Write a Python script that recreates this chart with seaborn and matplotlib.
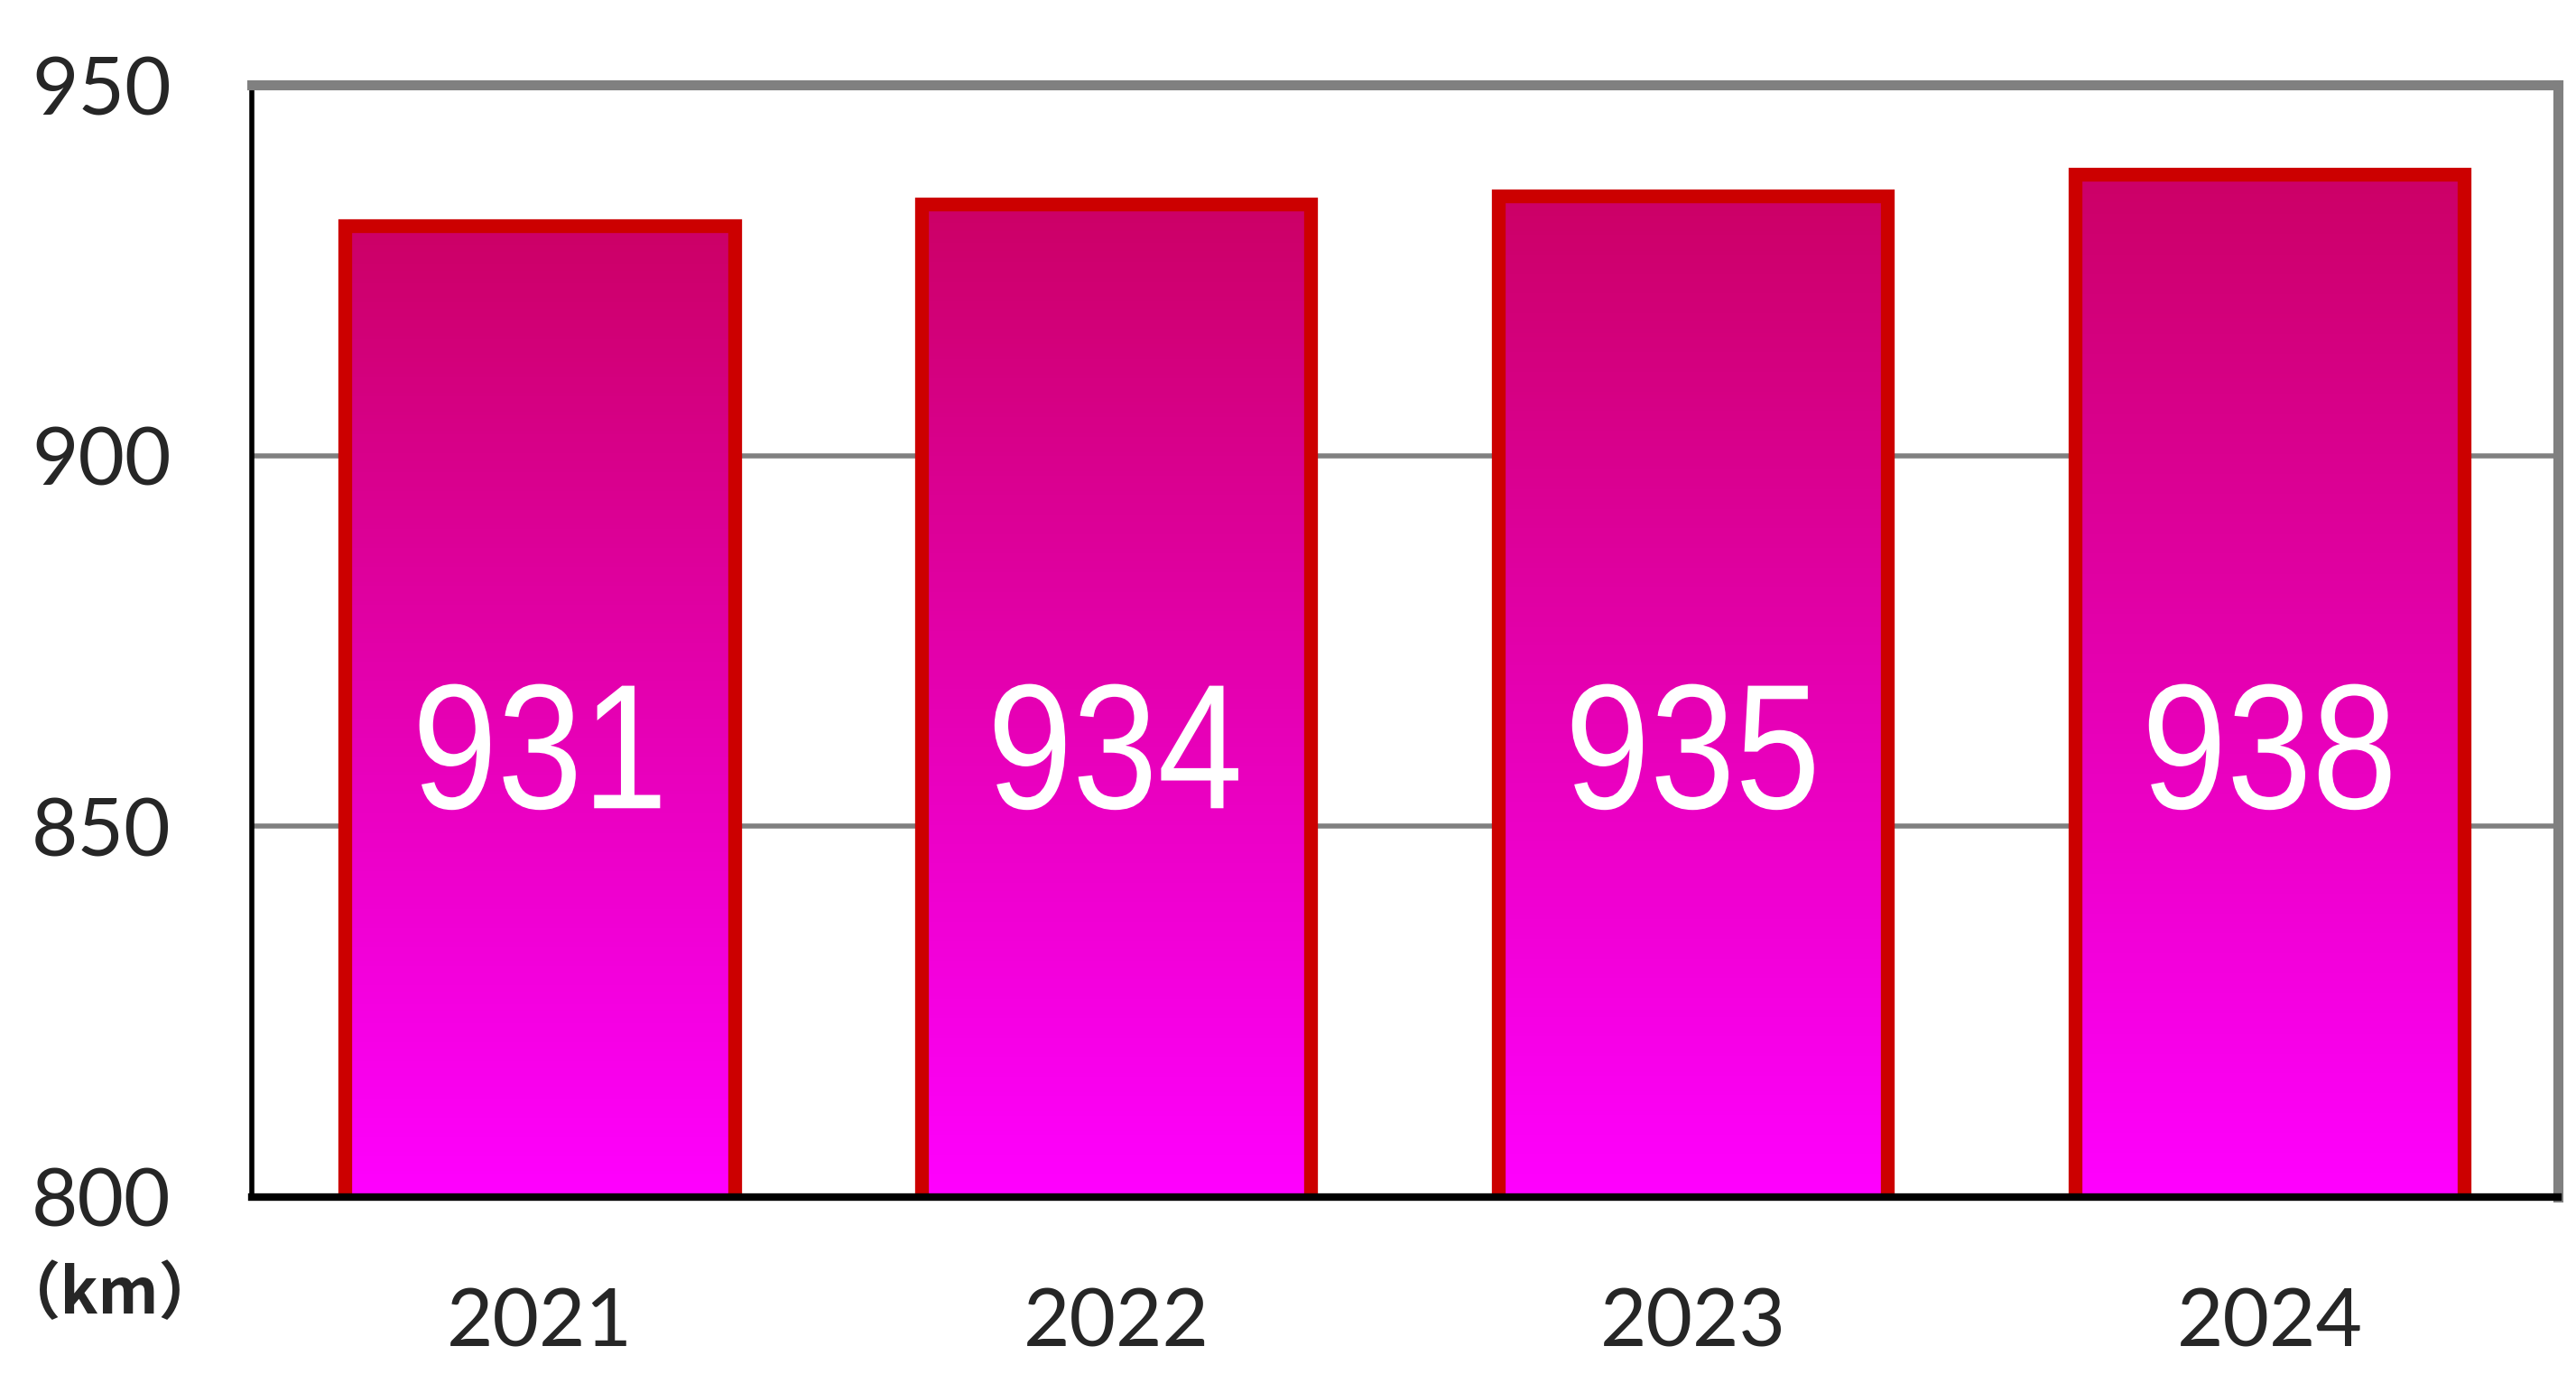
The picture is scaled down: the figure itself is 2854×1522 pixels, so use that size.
import numpy as np
import pandas as pd
import matplotlib
matplotlib.use('Agg')
import matplotlib.pyplot as plt
from matplotlib.colors import LinearSegmentedColormap
from matplotlib.textpath import TextPath
from matplotlib.patches import PathPatch
from matplotlib.font_manager import FontProperties
from matplotlib.transforms import Affine2D
import seaborn as sns

# data
years = ['2021', '2022', '2023', '2024']
lengths = [931, 934, 935, 938]
y_ticks = [800, 850, 900, 950]

sns.set_style('white')
plt.rcParams['font.family'] = ['Lato', 'DejaVu Sans']

fig, ax = plt.subplots(figsize=(14.27, 7.61), dpi=200)
fig.subplots_adjust(left=0.0976, right=0.993, top=0.938, bottom=0.129)

df = pd.DataFrame({'year': years, 'length': lengths})
sns.barplot(data=df, x='year', y='length', color='#ff00ff', width=0.675,
            edgecolor='#cc0000', linewidth=5.5, saturation=1, ax=ax)

ax.set_ylim(800, 950)
ax.set_xlim(-0.5, 3.5)

# gradient fill inside every bar
grad = LinearSegmentedColormap.from_list('g', ['#ff00ff', '#cc0066'])
for p in ax.patches:
    x0, w = p.get_x(), p.get_width()
    top = p.get_y() + p.get_height()
    im = ax.imshow(np.linspace(0, 1, 256).reshape(-1, 1), cmap=grad, origin='lower',
                   extent=[x0, x0 + w, 800, top], aspect='auto', zorder=3)
    im.set_clip_path(p)
    p.set_facecolor('none')
    p.set_zorder(4)

ax.set_ylim(800, 950)
ax.set_xlim(-0.5, 3.5)

# value labels (slightly condensed digits)
fp = FontProperties(family='Liberation Sans')
px = fig.dpi / 72
for i, v in enumerate(lengths):
    tp = TextPath((0, 0), str(v), size=71, prop=fp)
    bb = tp.get_extents()
    cx, cy = ax.transData.transform((i, 860.7))
    tr = (Affine2D().translate(-(bb.x0 + bb.x1) / 2, -(bb.y0 + bb.y1) / 2)
          .scale(0.86 * px, px).translate(cx, cy))
    ax.add_artist(PathPatch(tp, transform=tr, facecolor='white', edgecolor='none', zorder=6))

ax.set_yticks(y_ticks)
ax.yaxis.grid(True, color='#808080', linewidth=2)
ax.set_axisbelow(True)
ax.set_xlabel('')
ax.set_ylabel('')
ax.tick_params(axis='both', length=0, labelsize=32, labelcolor='#262626')
ax.tick_params(axis='y', pad=32)
ax.tick_params(axis='x', pad=36)

for s in ['top', 'right']:
    ax.spines[s].set_color('#808080')
    ax.spines[s].set_linewidth(4)
ax.spines['left'].set_color('#000000')
ax.spines['left'].set_linewidth(2)
ax.spines['bottom'].set_color('#000000')
ax.spines['bottom'].set_linewidth(3)
ax.spines['bottom'].set_zorder(7)

fig.text(67 / 1568, 1 - 788 / 836, '（km）', ha='center', va='center', fontsize=25,
         family=['Noto Sans CJK JP', 'DejaVu Sans'], fontweight='bold', color='#262626')

fig.savefig('out.png', dpi=200)
